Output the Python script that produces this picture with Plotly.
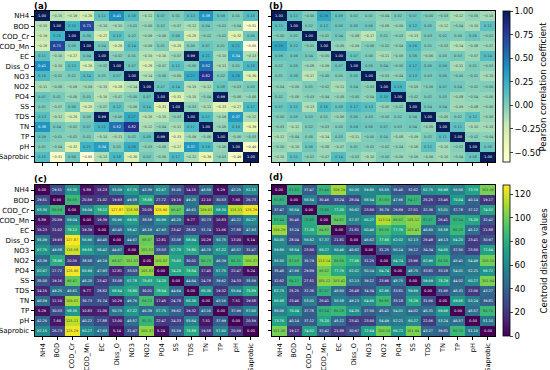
import plotly.graph_objects as go

labels = ["NH4", "BOD", "COD_Cr", "COD_Mn", "EC", "Diss_O", "NO3", "NO2",
          "PO4", "SS", "TDS", "TN", "TP", "pH", "Saprobic"]

# upper triangles (row i, columns i+1..14)
corr_a_upper = [
    [-0.15, -0.19, -0.26, 0.11, 0.41, 0.16, -0.11, 0.07, 0.01, 0.13, 0.38, 0.09, 0.01, 0.15],
    [0.20, 0.71, -0.10, -0.10, -0.01, -0.06, 0.02, -0.07, -0.12, 0.04, -0.01, -0.04, -0.51],
    [0.06, -0.27, 0.13, 0.02, -0.09, -0.06, 0.06, -0.25, -0.02, -0.02, -0.32, 0.06],
    [0.04, -0.26, 0.14, -0.09, 0.01, -0.25, 0.00, 0.07, 0.01, 0.21, -0.65],
    [-0.02, 0.01, -0.15, -0.16, -0.07, 0.99, 0.21, -0.10, 0.34, -0.13],
    [0.07, -0.28, -0.07, 0.12, -0.00, 0.52, -0.11, 0.01, 0.18],
    [-0.14, -0.00, -0.06, 0.27, 0.82, 0.02, 0.26, -0.30],
    [0.07, 0.14, -0.15, -0.12, 0.08, -0.03, 0.03],
    [-0.31, -0.15, -0.04, 0.99, -0.06, -0.06],
    [-0.03, -0.11, -0.33, -0.27, 0.17],
    [0.17, -0.09, 0.37, -0.12],
    [-0.06, 0.19, -0.39],
    [-0.06, -0.03],
    [-0.49],
]

corr_b_upper = [
    [0.11, -0.00, 0.29, 0.09, 0.02, 0.01, -0.04, 0.02, 0.07, -0.00, -0.03, -0.12, -0.05, -0.10],
    [0.02, 0.12, 0.06, 0.05, 0.06, -0.06, -0.06, 0.12, 0.05, -0.12, -0.04, -0.10, 0.11],
    [-0.01, 0.04, -0.08, -0.17, 0.01, -0.03, -0.13, 0.03, 0.02, 0.00, 0.06, -0.02],
    [-0.05, -0.09, -0.00, -0.02, -0.04, 0.16, 0.01, -0.03, -0.14, -0.08, -0.07],
    [0.07, 0.00, -0.11, -0.05, 0.08, -0.06, 0.00, 0.03, -0.07, 0.14],
    [0.05, 0.04, -0.00, 0.17, 0.06, 0.09, -0.11, 0.01, -0.03],
    [-0.03, -0.04, 0.13, 0.03, 0.06, -0.00, -0.01, -0.10],
    [0.18, -0.05, -0.00, 0.07, 0.04, -0.02, -0.00],
    [-0.02, 0.02, 0.03, -0.08, -0.04, -0.06],
    [0.04, 0.04, -0.09, -0.08, -0.06],
    [-0.05, 0.02, 0.12, -0.06],
    [0.11, -0.10, -0.10],
    [-0.02, -0.04],
    [0.08],
]

dist_c_upper = [
    [29.51, 63.30, 5.89, 15.23, 55.09, 67.75, 43.39, 62.67, 35.00, 14.15, 46.59, 5.29, 42.25, 62.15],
    [86.59, 20.59, 21.02, 19.93, 49.58, 78.68, 27.72, 19.16, 49.25, 12.10, 30.53, 7.60, 26.73],
    [59.04, 78.12, 127.87, 118.58, 20.05, 125.90, 96.47, 46.61, 109.61, 68.30, 115.11, 125.29],
    [19.39, 56.96, 69.55, 38.58, 60.99, 46.20, 9.77, 30.73, 10.83, 40.22, 60.27],
    [40.45, 58.42, 46.19, 47.93, 23.42, 28.82, 31.74, 11.06, 27.88, 47.93],
    [44.67, 98.07, 12.81, 33.08, 68.64, 10.29, 50.75, 13.00, 5.14],
    [101.53, 33.53, 67.78, 76.80, 46.76, 67.22, 45.57, 31.47],
    [105.83, 75.63, 30.01, 89.73, 46.39, 85.31, 105.37],
    [74.20, 78.54, 17.45, 57.75, 22.47, 5.24],
    [44.64, 24.78, 39.62, 24.33, 35.59],
    [65.36, 19.32, 55.64, 75.89],
    [43.16, 7.51, 19.58],
    [37.99, 57.60],
    [20.59],
]

dist_d_upper = [
    [81.83, 37.47, 83.44, 109.29, 60.00, 59.86, 55.55, 35.46, 32.62, 62.75, 66.98, 56.06, 73.76, 101.06],
    [56.54, 30.46, 33.24, 28.04, 58.54, 87.63, 47.66, 84.17, 25.25, 23.46, 70.04, 40.14, 19.17],
    [78.86, 77.20, 56.62, 23.50, 35.79, 29.89, 27.51, 32.36, 53.01, 37.78, 37.12, 74.52],
    [94.82, 57.37, 66.27, 113.14, 98.62, 105.12, 82.07, 26.41, 82.04, 75.20, 32.42],
    [21.81, 60.46, 89.56, 77.76, 103.41, 46.60, 56.58, 86.28, 45.12, 21.88],
    [46.62, 77.66, 62.02, 52.13, 26.48, 49.13, 64.20, 23.41, 30.97],
    [31.25, 50.14, 39.12, 34.34, 64.65, 37.50, 23.50, 72.64],
    [64.74, 23.96, 62.96, 86.86, 45.41, 54.49, 100.10],
    [48.75, 33.81, 33.18, 54.01, 52.21, 66.72],
    [59.69, 75.29, 44.02, 60.27, 101.94],
    [31.66, 46.31, 22.06, 43.27],
    [69.66, 53.24, 39.81],
    [46.57, 86.75],
    [51.10],
]

corr_ticks = [1.0, 0.75, 0.5, 0.25, 0.0, -0.25, -0.5]
dist_ticks = [0, 20, 40, 60, 80, 100, 120]


def full(upper, diag):
    n = len(upper) + 1
    m = [[diag] * n for _ in range(n)]
    for i, row in enumerate(upper):
        for k, v in enumerate(row):
            j = i + 1 + k
            m[i][j] = v
            m[j][i] = v
    return m


A = full(corr_a_upper, 1.0)
B = full(corr_b_upper, 1.0)
C = full(dist_c_upper, 0.0)
D = full(dist_d_upper, 0.0)

ylgnbu = [[0.0, "#ffffd9"], [0.125, "#edf8b1"], [0.25, "#c7e9b4"], [0.375, "#7fcdbb"],
          [0.5, "#41b6c4"], [0.625, "#1d91c0"], [0.75, "#225ea8"], [0.875, "#253494"],
          [1.0, "#081d58"]]

W, H = 550, 370
FONT = "DejaVu Sans"


def px(x0, x1):
    return [x0 / W, x1 / W]


def py(y0, y1):
    return [1 - y1 / H, 1 - y0 / H]


fig = go.Figure()
panels = [
    (A, "x", "y", "coloraxis"),
    (B, "x2", "y2", "coloraxis"),
    (C, "x3", "y3", "coloraxis2"),
    (D, "x4", "y4", "coloraxis2"),
]
for m, xa, ya, ca in panels:
    txt = [[f"{v:.2f}".replace("-", "\u2212") for v in row] for row in m]
    fig.add_trace(go.Heatmap(
        z=m, x=labels, y=labels, text=txt, texttemplate="%{text}",
        textfont=dict(size=3.5, family=FONT),
        xaxis=xa, yaxis=ya, coloraxis=ca, hoverinfo="skip"))

domains = {
    "": (px(35, 258), py(11, 162)),
    "2": (px(272, 495), py(11, 162)),
    "3": (px(35, 258), py(185, 336)),
    "4": (px(272, 495), py(185, 336)),
}
showx = {"": False, "2": False, "3": True, "4": True}
showy = {"": True, "2": False, "3": True, "4": False}
common = dict(tickmode="array", tickvals=labels, ticktext=labels,
              ticks="outside", ticklen=3.5, tickwidth=0.8, tickcolor="black",
              showline=True, mirror=True, linecolor="black", linewidth=0.8,
              showgrid=False, zeroline=False, automargin=False)
lay = {}
for k, (dx, dy) in domains.items():
    lay["xaxis" + k] = dict(domain=dx, anchor="y" + k, showticklabels=showx[k],
                            tickangle=-90, tickfont=dict(size=6.6, family=FONT, color="black"),
                            **common)
    lay["yaxis" + k] = dict(domain=dy, anchor="x" + k, showticklabels=showy[k],
                            autorange="reversed",
                            tickfont=dict(size=7, family=FONT, color="black"), **common)


def cbar(yc, tickvals, ticktext):
    return dict(x=503 / W, xanchor="left", y=1 - yc / H, yanchor="middle",
                len=151, lenmode="pixels", thickness=7, thicknessmode="pixels",
                xpad=0, ypad=0, outlinewidth=0.8, outlinecolor="black",
                tickmode="array", tickvals=tickvals, ticktext=ticktext,
                ticks="outside", ticklen=3, tickwidth=0.8,
                tickfont=dict(size=8.5, family=FONT, color="black"))


fig.update_layout(
    width=W, height=H, margin=dict(l=0, r=0, t=0, b=0),
    paper_bgcolor="white", plot_bgcolor="white",
    font=dict(family=FONT, color="black"),
    coloraxis=dict(colorscale=ylgnbu, cmin=-0.6, cmax=1.0,
                   colorbar=cbar(86.5, corr_ticks,
                                 [f"{v:.2f}".replace("-", "\u2212") for v in corr_ticks])),
    coloraxis2=dict(colorscale="Viridis", cmin=0, cmax=127.87,
                    colorbar=cbar(260.5, dist_ticks, [str(v) for v in dist_ticks])),
    **lay,
)

for txt, x, y in [("(a)", 32, 6), ("(b)", 267, 6), ("(c)", 32, 179), ("(d)", 267, 177)]:
    fig.add_annotation(text=f"<b>{txt}</b>", x=x / W, y=1 - y / H, xref="paper", yref="paper",
                       xanchor="left", yanchor="middle", showarrow=False,
                       font=dict(size=8.5, family=FONT, color="black"))

for txt, yc in [("Pearson correlation coefficient", 86.5), ("Centroid distance values", 260.5)]:
    fig.add_annotation(text=txt, x=543 / W, y=1 - yc / H, xref="paper", yref="paper",
                       xanchor="center", yanchor="middle", textangle=-90, showarrow=False,
                       font=dict(size=8.5, family=FONT, color="black"))

fig.write_html("out.html", config={"displayModeBar": False},
               post_script="document.body.style.margin='0';document.body.style.overflow='hidden';")
